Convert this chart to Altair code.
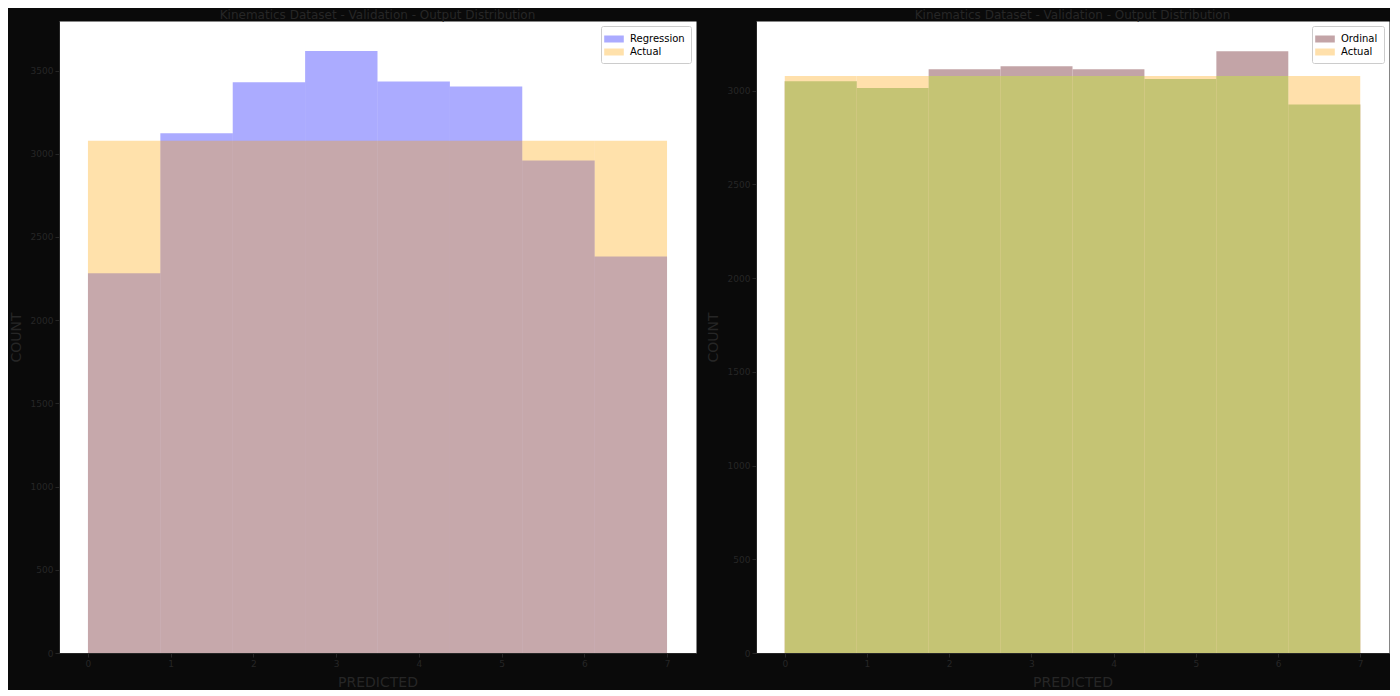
import altair as alt
import pandas as pd

# ---- data ----
bin_left = [0.0, 0.875, 1.75, 2.625, 3.5, 4.375, 5.25, 6.125]
bin_right = [0.875, 1.75, 2.625, 3.5, 4.375, 5.25, 6.125, 7.0]
regression_counts = [2282, 3123, 3430, 3617, 3435, 3405, 2959, 2383]
ordinal_counts = [3049, 3013, 3113, 3129, 3113, 3061, 3210, 2926]
actual_counts = [3078, 3078, 3078, 3078, 3078, 3078, 3078, 3078]

x_ticks = [0, 1, 2, 3, 4, 5, 6, 7]
left_y_ticks = [0, 500, 1000, 1500, 2000, 2500, 3000, 3500]
right_y_ticks = [0, 500, 1000, 1500, 2000, 2500, 3000]

TITLE = "Kinematics Dataset - Validation - Output Distribution"
TXT = "#262626"
BG = "#0a0a0a"

reg_df = pd.DataFrame({"x0": bin_left, "x1": bin_right, "count": regression_counts, "series": "Regression"})
act_df = pd.DataFrame({"x0": bin_left, "x1": bin_right, "count": actual_counts, "series": "Actual"})
ord_df = pd.DataFrame({"x0": bin_left, "x1": bin_right, "count": ordinal_counts, "series": "Ordinal"})
both_df = pd.DataFrame({"x0": bin_left, "x1": bin_right, "ordv": ordinal_counts, "actv": actual_counts})

xenc = alt.X("x0:Q", scale=alt.Scale(domain=[-0.35, 7.35], nice=False, zero=False),
             axis=alt.Axis(values=x_ticks, format="d", title="PREDICTED"))


def yenc(top, ticks):
    return alt.Y("count:Q", scale=alt.Scale(domain=[0, top], nice=False),
                 axis=alt.Axis(values=ticks, format="d", title="COUNT"))


left_color = alt.Color("series:N",
                       scale=alt.Scale(domain=["Regression", "Actual"], range=["#0000ff", "#ffa500"]),
                       legend=alt.Legend(title=None))

left_reg = alt.Chart(reg_df).mark_bar(opacity=0.33).encode(
    x=xenc, x2="x1:Q", y=yenc(3798, left_y_ticks), y2=alt.datum(0), color=left_color)
left_act = alt.Chart(act_df).mark_bar(opacity=0.33).encode(
    x=xenc, x2="x1:Q", y=yenc(3798, left_y_ticks), y2=alt.datum(0), color=left_color)
left = alt.layer(left_reg, left_act).properties(width=637, height=632, title=TITLE)

right_color = alt.Color("series:N",
                        scale=alt.Scale(domain=["Ordinal", "Actual"], range=["#c3a4a7", "#ffe0ab"]),
                        legend=alt.Legend(title=None))

right_ord = alt.Chart(ord_df).mark_bar().encode(
    x=xenc, x2="x1:Q", y=yenc(3371, right_y_ticks), y2=alt.datum(0), color=right_color)
right_act = alt.Chart(act_df).mark_bar().encode(
    x=xenc, x2="x1:Q", y=yenc(3371, right_y_ticks), y2=alt.datum(0), color=right_color)
right_overlap = alt.Chart(both_df).transform_calculate(
    count="min(datum.ordv, datum.actv)"
).mark_bar(color="#c5c474").encode(
    x=xenc, x2="x1:Q", y=yenc(3371, right_y_ticks), y2=alt.datum(0))
right = alt.layer(right_ord, right_act, right_overlap).properties(width=633, height=632, title=TITLE)

chart = alt.hconcat(left, right, spacing=8).resolve_scale(color="independent").properties(
    background=BG, padding=0
).configure_view(
    fill="white", stroke="transparent"
).configure_axis(
    labelColor=TXT, titleColor=TXT, tickColor=TXT, domainColor=TXT,
    labelFontSize=9, titleFontSize=14, titleFontWeight="normal",
    labelFont="DejaVu Sans", titleFont="DejaVu Sans",
    grid=False, tickSize=4, labelPadding=2, titlePadding=7
).configure_title(
    color=TXT, fontSize=12, fontWeight="normal", font="DejaVu Sans", offset=-1
).configure_legend(
    orient="top-right", offset=5, fillColor="white", strokeColor="#cccccc",
    padding=6, labelFontSize=10, labelFont="DejaVu Sans", labelColor="black",
    symbolType="M-1.4,-0.5H1.4V0.5H-1.4Z", symbolSize=196, cornerRadius=2,
    symbolStrokeWidth=0, rowPadding=1, labelOffset=9
)

chart.save("out.html", embed_options={"renderer": "svg", "actions": False})
